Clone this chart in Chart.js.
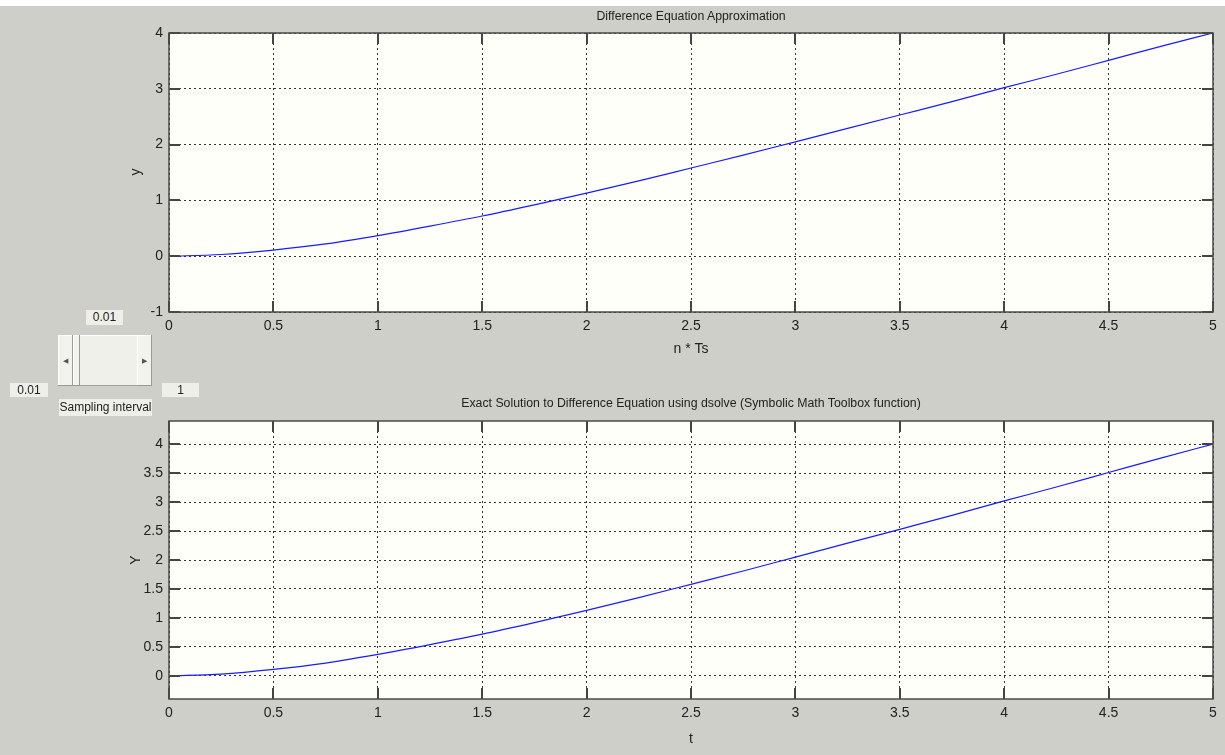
<!DOCTYPE html>
<html>
<head>
<meta charset="utf-8">
<script src="https://cdn.jsdelivr.net/npm/chart.js@4.4.1/dist/chart.umd.min.js"></script>
<style>
  html, body { margin: 0; padding: 0; }
  body { width: 1225px; height: 755px; background: #cfcfc9; position: relative; overflow: hidden;
         font-family: "Liberation Sans", Arial, sans-serif; color: #222; }
  #strip { position: absolute; left: 0; top: 0; width: 1225px; height: 6px; background: #fff; }
  canvas { position: absolute; left: 0; }
  .lbl { position: absolute; font-size: 12.3px; white-space: nowrap; transform: translate(-50%, -50%); }
  .ylbl { position: absolute; font-size: 14px; transform: translate(-50%, -50%) rotate(-90deg); }
  .box { position: absolute; background: #efefea; font-size: 12px; text-align: center; line-height: 15px; color: #222; }
  .slider { position: absolute; left: 58px; top: 335px; width: 94px; height: 51px; background: #f0f0eb;
            box-shadow: inset -1px -1px 0 #a0a09a, inset 1px 1px 0 #fff; }
  .slider div { position: absolute; top: 0; height: 51px; background: #f2f2ee;
                box-shadow: inset -1px -1px 0 #9a9a94, inset 1px 1px 0 #fff; }
  .arrow { font-size: 7px; line-height: 51px; text-align: center; color: #555; }
</style>
</head>
<body>
<div id="strip"></div>
<canvas id="topChart" width="1225" height="372" style="top:0"></canvas>
<canvas id="bottomChart" width="1225" height="383" style="top:372px"></canvas>

<div class="lbl" style="left:691px; top:16px">Difference Equation Approximation</div>
<div class="lbl" style="left:691px; top:348px; font-size:14px">n * Ts</div>
<div class="ylbl" style="left:135px; top:172px">y</div>
<div class="lbl" style="left:691px; top:403px">Exact Solution to Difference Equation using dsolve (Symbolic Math Toolbox function)</div>
<div class="lbl" style="left:691px; top:738px; font-size:14px">t</div>
<div class="ylbl" style="left:135px; top:560px">Y</div>

<div class="box" style="left:86px; top:310px; width:37px; height:15px">0.01</div>
<div class="slider">
  <div class="arrow" style="left:0; width:15px">&#9664;</div>
  <div style="left:15px; width:7px"></div>
  <div class="arrow" style="left:79px; width:15px">&#9654;</div>
</div>
<div class="box" style="left:10px; top:383px; width:38px; height:14px">0.01</div>
<div class="box" style="left:162px; top:383px; width:37px; height:14px">1</div>
<div class="box" style="left:59px; top:399px; width:93px; height:17px; line-height:17px">Sampling interval</div>

<script>
// time axis (n*Ts for the top plot, t for the bottom one)
const tValues = [0, 0.25, 0.5, 0.75, 1, 1.25, 1.5, 1.75, 2, 2.25, 2.5, 2.75, 3, 3.25, 3.5, 3.75, 4, 4.25, 4.5, 4.75, 5];

// values
const yApprox = [0, 0.03, 0.11, 0.22, 0.37, 0.54, 0.72, 0.92, 1.13, 1.35, 1.58, 1.81, 2.05, 2.29, 2.53, 2.77, 3.02, 3.26, 3.51, 3.76, 4.0];
const yExact  = [0, 0.03, 0.11, 0.22, 0.37, 0.54, 0.72, 0.92, 1.13, 1.35, 1.58, 1.81, 2.05, 2.29, 2.53, 2.77, 3.02, 3.26, 3.51, 3.76, 4.0];

// axis limits and tick spacing
const xLimits = [0, 5];
const xStep = 0.5;
const topYLimits = [-1, 4];
const topYStep = 1;
const bottomYLimits = [-0.4, 4.4];
const bottomYStep = 0.5;

const tickFont = { family: '"Liberation Sans", Arial, sans-serif', size: 14 };
const fmt = v => String(Math.round(v * 100) / 100);

// MATLAB style box and inward tick marks
const matlabAxes = {
    id: 'matlabAxes',
    beforeDraw(chart) {
        const { ctx, chartArea: a } = chart;
        ctx.save();
        ctx.fillStyle = '#fffffa';
        ctx.fillRect(a.left, a.top, a.right - a.left, a.bottom - a.top);
        ctx.restore();
    },
    afterDraw(chart) {
        const { ctx, chartArea: a, scales } = chart;
        const len = 11;
        ctx.save();
        ctx.strokeStyle = '#444';
        ctx.lineWidth = 2;
        ctx.setLineDash([]);
        ctx.beginPath();
        scales.x.ticks.forEach(t => {
            const px = Math.round(scales.x.getPixelForValue(t.value));
            ctx.moveTo(px, a.bottom); ctx.lineTo(px, a.bottom - len);
            ctx.moveTo(px, a.top); ctx.lineTo(px, a.top + len);
        });
        scales.y.ticks.forEach(t => {
            const py = Math.round(scales.y.getPixelForValue(t.value));
            ctx.moveTo(a.left, py); ctx.lineTo(a.left + len, py);
            ctx.moveTo(a.right, py); ctx.lineTo(a.right - len, py);
        });
        ctx.stroke();
        ctx.strokeStyle = '#4a4a4a';
        ctx.lineWidth = 1.5;
        ctx.strokeRect(a.left, a.top, a.right - a.left, a.bottom - a.top);
        ctx.restore();
    }
};

function makeChart(id, values, yLimits, yStep, padTop, xHeight) {
    return new Chart(document.getElementById(id), {
        type: 'line',
        data: {
            datasets: [{
                data: tValues.map((t, i) => ({ x: t, y: values[i] })),
                borderColor: '#1a1aff',
                borderWidth: 1.2,
                pointRadius: 0,
                cubicInterpolationMode: 'monotone',
                fill: false
            }]
        },
        options: {
            responsive: false,
            animation: false,
            layout: { padding: { top: padTop, right: 12, left: 0, bottom: 0 } },
            plugins: { legend: { display: false }, tooltip: { enabled: false } },
            scales: {
                x: {
                    type: 'linear',
                    min: xLimits[0], max: xLimits[1],
                    afterFit: s => { s.height = xHeight; },
                    ticks: { stepSize: xStep, font: tickFont, color: '#222', padding: 6, maxRotation: 0, callback: fmt },
                    grid: { color: '#333', lineWidth: 1, drawTicks: false },
                    border: { display: false, dash: [2, 3] }
                },
                y: {
                    min: yLimits[0], max: yLimits[1],
                    afterFit: s => { s.width = 169; },
                    afterBuildTicks: s => {
                        // MATLAB ticks start at a multiple of the step
                        const ticks = [];
                        for (let v = Math.ceil(yLimits[0] / yStep) * yStep; v <= yLimits[1] + 1e-9; v += yStep) {
                            ticks.push({ value: Math.round(v * 100) / 100 });
                        }
                        s.ticks = ticks;
                    },
                    ticks: { font: tickFont, color: '#222', padding: 6, callback: fmt },
                    grid: { color: '#333', lineWidth: 1, drawTicks: false },
                    border: { display: false, dash: [2, 3] }
                }
            }
        },
        plugins: [matlabAxes]
    });
}

makeChart('topChart', yApprox, topYLimits, topYStep, 33, 372 - 312);
makeChart('bottomChart', yExact, bottomYLimits, bottomYStep, 421 - 372, 755 - 699);
</script>
</body>
</html>
